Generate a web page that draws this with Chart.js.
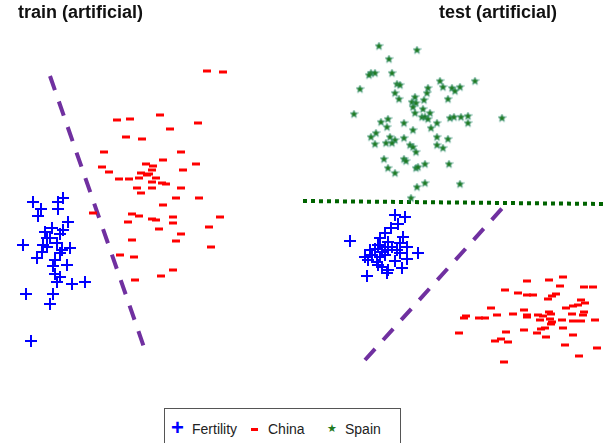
<!DOCTYPE html>
<html>
<head>
<meta charset="utf-8">
<script src="https://cdn.jsdelivr.net/npm/chart.js@4"></script>
<style>
  body { margin: 0; background: #fff; width: 606px; height: 443px; overflow: hidden; position: relative; font-family: "Liberation Sans", Arial, sans-serif; }
  canvas { position: absolute; top: 0; }
  #cTrain { left: 0; }
  #cTest { left: 303px; }
  .titulo { position: absolute; top: 1px; font-weight: bold; font-size: 18px; line-height: 22px; color: #111; white-space: nowrap; }
  #legenda { position: absolute; left: 164px; top: 408px; width: 237px; height: 40px; border: 1px solid #555; box-sizing: border-box; font-size: 14px; color: #222; }
  #legenda span { position: absolute; top: 12px; white-space: nowrap; }
</style>
</head>
<body>
<canvas id="cTrain" width="303" height="400"></canvas>
<canvas id="cTest" width="303" height="400"></canvas>
<div class="titulo" style="left:18px">train (artificial)</div>
<div class="titulo" style="left:439px">test (artificial)</div>
<div id="legenda">
  <span style="left:6px; top:6px; color:#0000ff; font-size:22px; font-weight:bold;">+</span>
  <span style="left:27px">Fertility</span>
  <span style="left:86px; top:19px; width:7px; height:3px; background:#ff0000;"></span>
  <span style="left:103px">China</span>
  <span style="left:162px; top:13px; color:#1f7a1f; font-size:11px;">&#9733;</span>
  <span style="left:180px">Spain</span>
</div>
<script>
// pontos: [x, y] (y cresce para baixo)
const trainFertility = [
  [63,198],[58,202],[33,202],[41,209],[58,209],[38,216],[68,222],[52,228],[63,230],[45,232],
  [60,234],[50,238],[47,238],[23,245],[43,245],[47,247],[57,243],[62,250],[70,248],[60,253],
  [42,252],[37,258],[55,260],[67,265],[53,266],[55,274],[60,277],[57,282],[72,284],[85,282],
  [26,294],[53,294],[50,304],[31,341]
];
const trainChina = [
  [207,71],[223,72],[117,120],[130,119],[160,115],[198,123],[170,129],[126,137],[142,139],[104,152],
  [181,152],[163,160],[146,164],[153,166],[196,164],[102,167],[109,172],[183,170],[152,170],[141,173],
  [147,175],[149,174],[139,178],[156,178],[119,179],[129,179],[152,182],[162,183],[166,184],[137,188],
  [152,188],[181,188],[141,193],[176,198],[199,198],[163,205],[93,213],[132,214],[139,216],[152,219],
  [156,220],[173,217],[220,217],[128,222],[173,223],[209,227],[159,229],[181,234],[132,240],[176,241],
  [211,247],[120,255],[134,257],[173,270],[161,276],[135,280]
];
const testFertility = [
  [395,215],[405,217],[398,224],[391,228],[385,233],[350,241],[403,237],[380,238],[388,242],[378,245],
  [385,247],[392,247],[400,243],[407,247],[370,250],[375,249],[382,252],[388,250],[397,250],[418,253],
  [365,257],[372,255],[380,257],[385,255],[400,253],[368,260],[377,262],[395,261],[407,259],[382,267],
  [378,265],[388,270],[402,268],[367,276],[387,273]
];
const testChina = [
  [563,277],[527,281],[549,280],[560,286],[505,290],[584,287],[593,287],[518,293],[527,295],[533,295],
  [556,294],[552,296],[548,299],[581,300],[585,303],[578,305],[573,306],[566,308],[491,308],[524,310],
  [549,312],[584,312],[466,316],[464,318],[479,318],[485,318],[497,315],[513,314],[527,315],[527,317],
  [538,315],[543,316],[551,314],[572,314],[583,315],[540,320],[550,319],[552,322],[562,320],[573,321],
  [581,321],[595,320],[551,324],[545,328],[541,329],[563,328],[459,333],[506,332],[524,330],[537,333],
  [573,335],[546,337],[495,341],[501,339],[508,342],[565,345],[597,348],[579,356],[504,362]
];
const testSpain = [
  [379,46],[417,50],[389,59],[371,73],[375,73],[369,75],[392,73],[397,84],[400,85],[360,89],
  [395,93],[399,99],[440,81],[443,87],[452,88],[455,91],[460,87],[475,81],[428,88],[427,93],
  [424,100],[415,97],[412,102],[416,103],[448,99],[413,107],[423,109],[415,113],[430,113],[422,117],
  [425,117],[354,114],[450,118],[454,117],[461,117],[468,116],[468,123],[502,118],[381,122],[388,119],
  [387,127],[404,123],[428,119],[437,123],[431,128],[413,130],[376,133],[371,137],[390,137],[395,140],
  [404,138],[375,144],[386,143],[392,143],[410,145],[413,147],[416,152],[437,137],[448,139],[437,145],
  [443,148],[384,159],[404,159],[406,161],[388,168],[395,173],[416,168],[418,167],[425,164],[449,164],
  [417,187],[425,183],[460,184],[411,198]
];
// fronteiras
const trainBoundary = [[50,76],[146,353]];
const testBoundary = [[365,360],[506,204]];
const testSplit = [[303,201],[606,204]];

function pts(arr) {
  return arr.map(p => ({ x: p[0], y: p[1] }));
}

function estrela() {
  const c = document.createElement('canvas');
  c.width = 9; c.height = 9;
  const g = c.getContext('2d');
  g.beginPath();
  for (let i = 0; i < 10; i++) {
    const r = i % 2 === 0 ? 4.2 : 1.8;
    const a = -Math.PI / 2 + i * Math.PI / 5;
    g.lineTo(4.5 + r * Math.cos(a), 4.7 + r * Math.sin(a));
  }
  g.closePath();
  g.fillStyle = '#1f7a1f';
  g.fill();
  g.strokeStyle = 'rgba(60,150,140,0.7)';
  g.lineWidth = 0.7;
  g.stroke();
  return c;
}

const fert = d => ({ data: pts(d), pointStyle: 'cross', pointRadius: 6, borderColor: '#0000ff', borderWidth: 2 });
const china = d => ({ data: pts(d), pointStyle: 'line', pointRadius: 4, borderColor: '#ff0000', borderWidth: 3 });
const linha = (d, cor, dash) => ({
  type: 'line', data: pts(d), borderColor: cor, borderWidth: 4, borderDash: dash,
  borderCapStyle: 'butt', pointRadius: 0, fill: false
});

function opcoes(xmin, xmax) {
  return {
    responsive: false,
    animation: false,
    layout: { padding: 0, autoPadding: false },
    plugins: { legend: { display: false }, tooltip: { enabled: false } },
    scales: {
      x: { type: 'linear', display: false, min: xmin, max: xmax },
      y: { type: 'linear', display: false, min: 0, max: 400, reverse: true }
    }
  };
}

new Chart(document.getElementById('cTrain'), {
  type: 'scatter',
  data: {
    datasets: [
      fert(trainFertility),
      china(trainChina),
      linha(trainBoundary, '#7030a0', [15, 12])
    ]
  },
  options: opcoes(0, 303)
});

new Chart(document.getElementById('cTest'), {
  type: 'scatter',
  data: {
    datasets: [
      fert(testFertility),
      china(testChina),
      { data: pts(testSpain), pointStyle: estrela(), pointRadius: 5 },
      linha(testSplit, '#006400', [4, 4]),
      linha(testBoundary, '#7030a0', [15, 12])
    ]
  },
  options: opcoes(303, 606)
});
</script>
</body>
</html>
